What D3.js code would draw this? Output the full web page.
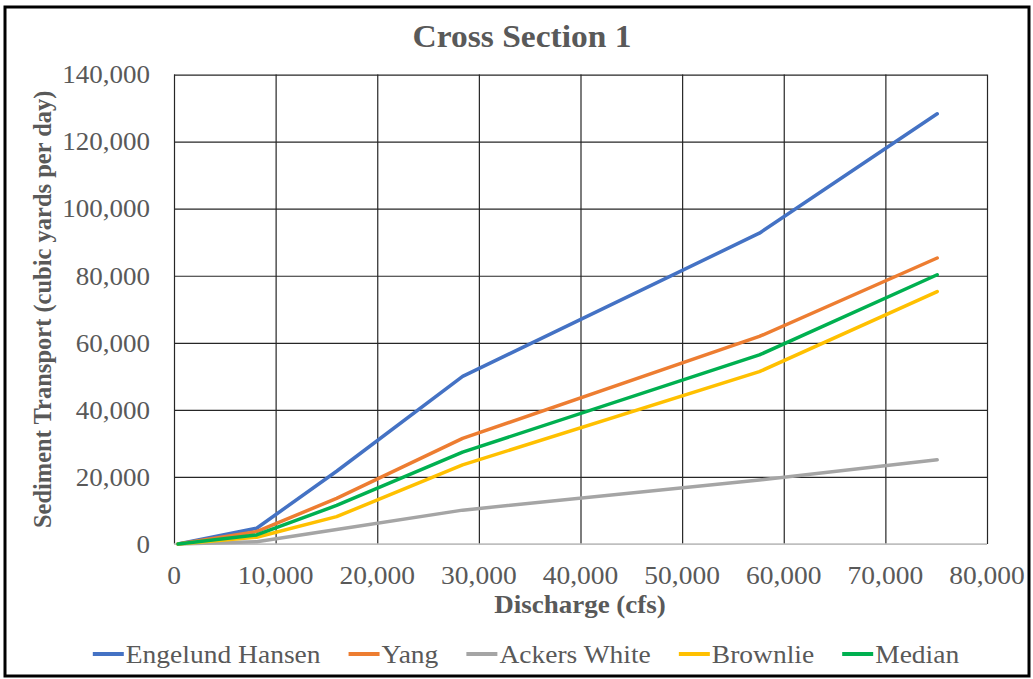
<!DOCTYPE html>
<html>
<head>
<meta charset="utf-8">
<script src="https://cdn.jsdelivr.net/npm/d3@7"></script>
<style>
  body { margin: 0; background: #fff; }
  text { font-family: "Liberation Serif", "Times New Roman", serif; fill: #595959; }
</style>
</head>
<body>
<div id="graph"></div>
<script>
var discharge = [400, 8130, 16000, 28400, 57600, 75100]

var engelund = [0, 4700, 21700, 50000, 92700, 128300]
var yang     = [0, 3700, 13600, 31500, 61900, 85300]
var ackers   = [0, 700, 4300, 10100, 19100, 25100]
var brownlie = [0, 2000, 8150, 23600, 51400, 75300]
var median   = [0, 2700, 11500, 27400, 56400, 80300]

var seriesNames = ['Engelund Hansen', 'Yang', 'Ackers White', 'Brownlie', 'Median']
var seriesColors = ['#4472C4', '#ED7D31', '#A5A5A5', '#FFC000', '#00B050']
var xTicks = [0, 10000, 20000, 30000, 40000, 50000, 60000, 70000, 80000]
var yTicks = [0, 20000, 40000, 60000, 80000, 100000, 120000, 140000]

var series = [engelund, yang, ackers, brownlie, median].map((vals, i) => ({
  name: seriesNames[i],
  color: seriesColors[i],
  points: vals.map((v, j) => ({x: discharge[j], y: v}))
}))

var W = 1033, H = 679
var margin = {left: 174, right: 46, top: 74.6, bottom: 135}
var width = W - margin.left - margin.right
var height = H - margin.top - margin.bottom

// the original picture is a bit wider than tall, so stretch horizontal text
function stretch(sel, k){
  var total = 0
  sel.each(function(){
    var len = this.getComputedTextLength()
    total += len*k
    d3.select(this).attr('textLength', len*k).attr('lengthAdjust', 'spacingAndGlyphs')
  })
  return total
}

var svg = d3.select('#graph').append('svg')
  .attr('width', W).attr('height', H)

svg.append('rect')
  .attr('x', 5).attr('y', 7).attr('width', 1024).attr('height', 669)
  .attr('fill', '#fff').attr('stroke', '#000').attr('stroke-width', 3)

var g = svg.append('g').attr('transform', `translate(${margin.left},${margin.top})`)

var x = d3.scaleLinear().domain([0, 80000]).range([0, width])
var y = d3.scaleLinear().domain([0, 140000]).range([height, 0])
var fmt = d3.format(',')

// grid
g.append('g')
  .call(d3.axisLeft(y).tickValues(yTicks).tickSize(-width).tickFormat(''))
  .call(a => a.select('.domain').remove())
  .selectAll('line').attr('stroke', d => d == 0 ? '#bfbfbf' : '#262626').attr('stroke-width', 1.2)

g.append('g')
  .call(d3.axisBottom(x).tickValues(xTicks).tickSize(height).tickFormat(''))
  .call(a => a.select('.domain').remove())
  .selectAll('line').attr('stroke', '#262626').attr('stroke-width', 1.2)

g.append('line')
  .attr('x1', 0).attr('x2', width).attr('y1', height).attr('y2', height)
  .attr('stroke', '#bfbfbf').attr('stroke-width', 1.5)

// tick labels
var yl = g.append('g').selectAll('text').data(yTicks).join('text')
  .attr('x', -24).attr('y', d => y(d)).attr('dy', '0.35em')
  .attr('text-anchor', 'end').attr('font-size', 25)
  .text(fmt)
stretch(yl, 1.08)

var xl = g.append('g').selectAll('text').data(xTicks).join('text')
  .attr('x', d => x(d)).attr('y', height + 40)
  .attr('text-anchor', 'middle').attr('font-size', 25)
  .text(fmt)
stretch(xl, 1.1)

// lines
var line = d3.line().x(d => x(d.x)).y(d => y(d.y))

g.append('g').selectAll('path').data(series).join('path')
  .attr('d', d => line(d.points))
  .attr('fill', 'none')
  .attr('stroke', d => d.color)
  .attr('stroke-width', 3.5)
  .attr('stroke-linejoin', 'round')
  .attr('stroke-linecap', 'round')

// titles
var title = svg.append('text')
  .attr('x', 522).attr('y', 46.5)
  .attr('text-anchor', 'middle').attr('font-size', 31).attr('font-weight', 'bold')
  .text('Cross Section 1')
stretch(title, 1.08)

var xTitle = svg.append('text')
  .attr('x', 580).attr('y', 613)
  .attr('text-anchor', 'middle').attr('font-size', 25).attr('font-weight', 'bold')
  .text('Discharge (cfs)')
stretch(xTitle, 1.08)

svg.append('text')
  .attr('transform', `translate(51,${margin.top + height/2}) rotate(-90)`)
  .attr('text-anchor', 'middle').attr('font-size', 24.5).attr('font-weight', 'bold')
  .text('Sediment Transport (cubic yards per day)')

// legend
var legend = svg.append('g')
var lx = 0
series.forEach((s, i) => {
  var item = legend.append('g').attr('transform', `translate(${lx},0)`)
  item.append('line')
    .attr('x1', 0).attr('x2', 31).attr('y1', 0).attr('y2', 0)
    .attr('stroke', s.color).attr('stroke-width', 4)
  var t = item.append('text')
    .attr('x', 33).attr('y', 9).attr('font-size', 25)
    .text(s.name)
  lx += 33 + stretch(t, 1.1) + 28
})
lx -= 28
legend.attr('transform', `translate(${526 - lx/2},654)`)
</script>
</body>
</html>
